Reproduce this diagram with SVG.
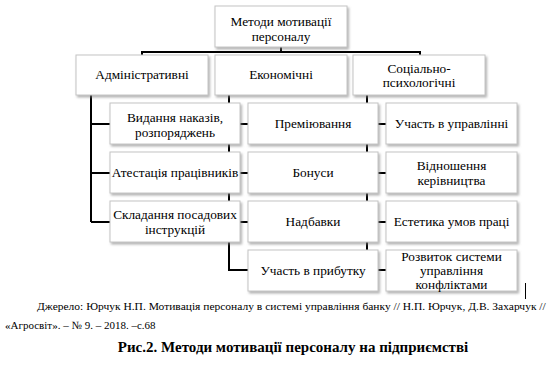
<svg xmlns="http://www.w3.org/2000/svg" width="555" height="375" viewBox="0 0 555 375">
<defs>
<filter id="shadow" x="-10%" y="-10%" width="130%" height="140%"><feDropShadow dx="1.5" dy="2" stdDeviation="1" flood-color="#808080" flood-opacity="0.6"/></filter>
</defs>
<rect width="555" height="375" fill="#fff"/>
<g id="connectors" stroke="#000" stroke-width="2" fill="none">
<path d="M142,56 V52 H420 V56 M281,47 V53"/>
<path d="M91,95 V222 M91,124 H112 M91,173 H112 M91,222 H112"/>
<path d="M229,95 V270 H250 M229,124 H250 M229,173 H250 M229,222 H250"/>
<path d="M367,95 V270 H388 M367,124 H388 M367,173 H388 M367,222 H388"/>
</g>
<g fill="#fff" stroke="#c4c4c4" stroke-width="1" filter="url(#shadow)">
<rect x="215" y="6" width="132" height="41"/>
<rect x="76" y="55" width="132" height="40"/>
<rect x="215" y="55" width="132" height="40"/>
<rect x="353" y="55" width="132" height="40"/>
<rect x="110" y="103" width="130" height="41"/>
<rect x="110" y="152" width="130" height="41"/>
<rect x="110" y="201" width="130" height="41"/>
<rect x="248" y="103" width="130" height="41"/>
<rect x="248" y="152" width="130" height="41"/>
<rect x="248" y="201" width="130" height="41"/>
<rect x="248" y="250" width="130" height="41"/>
<rect x="386" y="103" width="131" height="41"/>
<rect x="386" y="152" width="131" height="41"/>
<rect x="386" y="201" width="131" height="41"/>
<rect x="386" y="250" width="131" height="41"/>
</g>
<g id="n0"><text transform="translate(281,26) scale(0.665)" font-family="Liberation Serif" font-size="20" text-anchor="middle">Методи мотивації</text><text transform="translate(281,41) scale(0.665)" font-family="Liberation Serif" font-size="20" text-anchor="middle">персоналу</text></g>
<g id="n1"><text transform="translate(142,79) scale(0.665)" font-family="Liberation Serif" font-size="20" text-anchor="middle">Адміністративні</text></g>
<g id="n2"><text transform="translate(281,79) scale(0.665)" font-family="Liberation Serif" font-size="20" text-anchor="middle">Економічні</text></g>
<g id="n3"><text transform="translate(419,73) scale(0.665)" font-family="Liberation Serif" font-size="20" text-anchor="middle">Соціально-</text><text transform="translate(419,87) scale(0.665)" font-family="Liberation Serif" font-size="20" text-anchor="middle">психологічні</text></g>
<g id="a1"><text transform="translate(175,122) scale(0.665)" font-family="Liberation Serif" font-size="20" text-anchor="middle">Видання наказів,</text><text transform="translate(175,137) scale(0.665)" font-family="Liberation Serif" font-size="20" text-anchor="middle">розпоряджень</text></g>
<g id="a2"><text transform="translate(175,177) scale(0.665)" font-family="Liberation Serif" font-size="20" text-anchor="middle">Атестація працівників</text></g>
<g id="a3"><text transform="translate(175,219) scale(0.665)" font-family="Liberation Serif" font-size="20" text-anchor="middle">Складання посадових</text><text transform="translate(175,234) scale(0.665)" font-family="Liberation Serif" font-size="20" text-anchor="middle">інструкцій</text></g>
<g id="e1"><text transform="translate(313,128) scale(0.665)" font-family="Liberation Serif" font-size="20" text-anchor="middle">Преміювання</text></g>
<g id="e2"><text transform="translate(313,177) scale(0.665)" font-family="Liberation Serif" font-size="20" text-anchor="middle">Бонуси</text></g>
<g id="e3"><text transform="translate(313,226) scale(0.665)" font-family="Liberation Serif" font-size="20" text-anchor="middle">Надбавки</text></g>
<g id="e4"><text transform="translate(313,275) scale(0.665)" font-family="Liberation Serif" font-size="20" text-anchor="middle">Участь в прибутку</text></g>
<g id="s1"><text transform="translate(451.5,128) scale(0.665)" font-family="Liberation Serif" font-size="20" text-anchor="middle">Участь в управлінні</text></g>
<g id="s2"><text transform="translate(451.5,170) scale(0.665)" font-family="Liberation Serif" font-size="20" text-anchor="middle">Відношення</text><text transform="translate(451.5,185) scale(0.665)" font-family="Liberation Serif" font-size="20" text-anchor="middle">керівництва</text></g>
<g id="s3"><text transform="translate(451.5,226) scale(0.665)" font-family="Liberation Serif" font-size="20" text-anchor="middle">Естетика умов праці</text></g>
<g id="s4"><text transform="translate(451.5,261) scale(0.665)" font-family="Liberation Serif" font-size="20" text-anchor="middle">Розвиток системи</text><text transform="translate(451.5,275) scale(0.665)" font-family="Liberation Serif" font-size="20" text-anchor="middle">управління</text><text transform="translate(451.5,289) scale(0.665)" font-family="Liberation Serif" font-size="20" text-anchor="middle">конфліктами</text></g>
<g id="caption">
<text transform="translate(37,310) scale(0.55)" font-family="Liberation Serif" font-size="20" textLength="925" lengthAdjust="spacingAndGlyphs">Джерело: Юрчук Н.П. Мотивація персоналу в системі управління банку // Н.П. Юрчук, Д.В. Захарчук //</text>
<text transform="translate(5,329) scale(0.55)" font-family="Liberation Serif" font-size="20">«Агросвіт». – № 9. – 2018. –с.68</text>
<text transform="translate(293,352) scale(0.75)" font-family="Liberation Serif" font-size="20" font-weight="bold" text-anchor="middle">Рис.2. Методи мотивації персоналу на підприємстві</text>
</g>
<line x1="525.5" y1="283" x2="525.5" y2="299" stroke="#000" stroke-width="1"/>
</svg>
